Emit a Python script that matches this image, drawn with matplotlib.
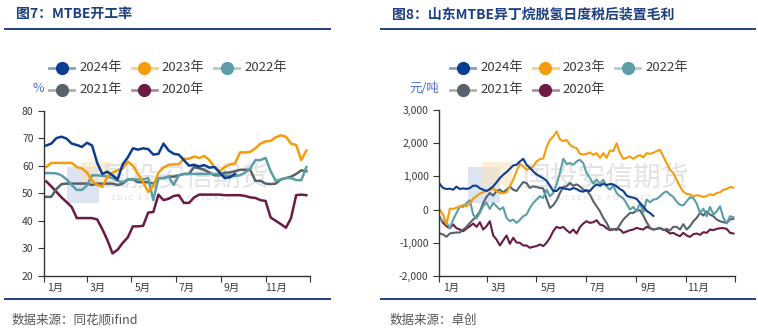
import numpy as np
import matplotlib
matplotlib.use("Agg")
import matplotlib.pyplot as plt
from matplotlib.lines import Line2D
from matplotlib.patches import Rectangle
from matplotlib.ticker import FuncFormatter

plt.rcParams["font.family"] = ["Noto Sans CJK SC", "DejaVu Sans"]

# ---- data -------------------------------------------------------------
years = ["2024年", "2023年", "2022年", "2021年", "2020年"]
colors = ["#0b3d91", "#f59c0c", "#5b9ea8", "#56636d", "#6b1a45"]

month_labels = ["1月", "3月", "5月", "7月", "9月", "11月"]

# MTBE operating rate, weekly (%)
rate_2024 = [67.3, 68.0, 70.0, 70.5, 69.8, 68.0, 67.5, 66.8, 68.3, 67.3,
             61.0, 57.0, 57.8, 56.5, 55.0, 60.5, 63.0, 66.3, 65.8, 66.3,
             66.0, 64.0, 64.3, 68.0, 65.5, 64.3, 64.0, 62.0, 60.0, 60.3,
             59.7, 60.2, 59.3, 59.5, 57.5, 55.5, 55.8, 57.0]
rate_2023 = [59.5, 61.0, 61.0, 61.0, 61.0, 61.0, 59.5, 59.0, 57.5, 54.5,
             53.0, 52.3, 56.0, 57.5, 58.3, 59.0, 61.5, 60.0, 57.0, 54.0,
             50.5, 52.5, 57.5, 59.3, 60.3, 60.5, 60.5, 62.5, 62.5, 63.3,
             62.8, 63.5, 62.0, 59.5, 58.0, 59.5, 60.5, 60.8, 64.8, 64.8,
             65.0, 66.3, 68.0, 68.8, 69.0, 70.3, 71.0, 70.5, 68.0, 67.5,
             62.0, 65.5]
rate_2022 = [57.3, 57.3, 57.2, 56.5, 55.0, 53.0, 51.2, 51.2, 52.8, 56.5,
             56.5, 56.3, 56.0, 55.5, 54.5, 54.0, 55.0, 55.0, 55.0, 55.0,
             55.5, 47.5, 55.5, 55.5, 56.0, 53.0, 56.5, 57.0, 57.0, 57.0,
             57.0, 57.0, 57.0, 57.0, 56.8, 56.5, 56.3, 56.3, 56.5, 57.5,
             59.0, 62.0, 62.0, 62.8, 58.0, 54.5, 55.0, 55.5, 55.5, 54.8,
             54.7, 59.5]
rate_2021 = [48.7, 48.7, 51.5, 53.3, 53.5, 53.5, 53.5, 53.5, 53.5, 53.0,
             53.5, 53.5, 53.5, 53.5, 53.0, 53.5, 55.0, 55.0, 54.0, 54.0,
             54.0, 53.5, 55.5, 55.5, 56.0, 56.0, 56.5, 57.0, 57.0, 59.5,
             59.0, 58.5, 57.5, 56.5, 56.5, 57.5, 57.5, 58.0, 58.5, 58.5,
             58.5, 54.5, 54.5, 53.5, 53.3, 53.5, 55.0, 55.5, 56.0, 57.0,
             58.3, 58.0]
rate_2020 = [54.3, 52.5, 50.5, 48.5, 46.8, 45.0, 41.0, 41.0, 41.0, 41.0,
             40.5, 37.0, 33.0, 28.2, 29.5, 32.0, 34.0, 38.0, 38.0, 38.2,
             43.0, 43.2, 49.5, 47.5, 48.0, 49.0, 49.3, 46.5, 46.5, 48.5,
             49.5, 49.5, 49.5, 49.5, 49.5, 49.3, 49.3, 49.3, 49.3, 49.0,
             48.5, 48.3, 47.5, 47.2, 41.2, 40.0, 38.8, 37.5, 41.0, 49.3,
             49.5, 49.3]

# Shandong isobutane dehydrogenation margin, after tax (yuan/t)
margin_2024 = [770, 650, 620, 630, 600, 690, 620, 640, 620, 650,
               720, 720, 640, 600, 560, 620, 700, 820, 950, 1050,
               1130, 1230, 1330, 1350, 1450, 1530, 1350, 1260, 1150, 1060,
               1000, 950, 870, 720, 560, 560, 660, 640, 620, 600,
               650, 620, 560, 540, 580, 560, 680, 760, 720, 780,
               740, 770, 760, 700, 620, 560, 420, 380, 360, 320,
               200, 90, -40, -100, -190]
margin_2023 = [-10, -150, -450, 30, 20, 60, 90, 140, 100, 180,
               330, 400, 480, 530, 560, 590, 640, 560, 500, 490,
               520, 700, 900, 1150, 1380, 1300, 1200, 1230, 1300, 1450,
               1520, 1540, 1880, 2100, 2200, 2350, 2120, 2060, 2100, 1950,
               1880, 1850, 1680, 1660, 1680, 1720, 1650, 1700, 1560, 1700,
               1560, 1780, 1760, 2000, 1700, 1530, 1560, 1600, 1530, 1600,
               1640, 1570, 1700, 1680, 1710, 1760, 1800, 1600, 1400, 1200,
               1100, 900, 700, 540, 470, 460, 400, 430, 420, 380,
               410, 460, 430, 500, 520, 600, 620, 680, 660]
margin_2022 = [-260, -350, -380, -560, -300, -100, 100, 80, 200, 280,
               -150, -270, -100, 100, 210, 20, 200, 100, 0, 70,
               -250, -350, -300, -400, -310, -200, -150, 50, 200, 300,
               400, 350, 600, 400, 500, 750, 1100, 1530, 1380, 1400,
               1350, 1450, 1500, 1400, 1100, 950, 780, 900, 780, 900,
               700, 600, 720, 500, 400, 340, 180, 0, 80, -50,
               200, -80, 300, 220, 300, 320, 400, 500, 550, 450,
               380, 240, 140, 130, 250, 370, 350, 180, -100, 30,
               -200, 80, -150, -50, 100, -250, -420, -200, -230]
margin_2021 = [-720, -750, -820, -720, -700, -690, -690, -600, -520, -400,
               -300, -200, -60, 200, 380, 500, 420, 560, 600, 520,
               600, 700, 600, 560, 700, 830, 800, 650, 700, 680,
               650, 640, 320, 50, 130, 280, 500, 680, 700, 800,
               720, 760, 700, 600, 580, 450, 250, 100, -50, -250,
               -400, -600, -580, -620, -450, -300, -200, -100, -100, -30,
               -20, -180, -380, -550, -600, -580, -550, -620, -580, -630,
               -520, -520, -600, -440, -600, -500, -350, -250, -100, -180,
               -50, -150, -200, -300, -350, -380, -400, -300, -280]
margin_2020 = [-230, -400, -500, -560, -450, -560, -600, -650, -570, -500,
               -420, -520, -380, -600, -500, -350, -780, -900, -1080, -930,
               -780, -1030, -850, -990, -1000, -1080, -1080, -1150, -1120, -1100,
               -1050, -1100, -1000, -850, -650, -520, -560, -520, -620, -700,
               -600, -720, -530, -420, -350, -400, -380, -320, -450, -480,
               -560, -620, -600, -580, -600, -700, -660, -620, -600, -550,
               -580, -600, -520, -560, -600, -580, -560, -600, -640, -720,
               -700, -760, -800, -700, -780, -820, -740, -720, -760, -680,
               -700, -600, -620, -580, -560, -560, -580, -700, -720]

rate_series = [rate_2024, rate_2023, rate_2022, rate_2021, rate_2020]
margin_series = [margin_2024, margin_2023, margin_2022, margin_2021, margin_2020]

# ---- layout helpers ---------------------------------------------------
W, H = 758, 331
fig = plt.figure(figsize=(W / 100, H / 100), dpi=100)
navy = "#1d3f82"
txt_grey = "#3a3a3a"


def fx(px):
    return px / W


def fy(py):
    return 1 - py / H


def hline(x0, x1, y):
    fig.add_artist(Line2D([fx(x0), fx(x1)], [fy(y), fy(y)], color=navy, lw=1.4))


def legend(x_base):
    for i, (lab, col) in enumerate(zip(years, colors)):
        row, c = (0, i) if i < 3 else (1, i - 3)
        x0 = x_base + c * 82.5
        y = 68 if row == 0 else 90
        fig.add_artist(Line2D([fx(x0), fx(x0 + 25)], [fy(y), fy(y)],
                              color=col, lw=2, alpha=0.5))
        fig.add_artist(Line2D([fx(x0 + 12.5)], [fy(y)], marker="o", ms=8.5,
                              color=col, lw=0))
        fig.text(fx(x0 + 30), fy(y), lab, fontsize=9.5, color=txt_grey,
                 va="center", ha="left")


def watermark(x_logo, x_text):
    fig.add_artist(Rectangle((fx(x_logo), fy(203)), 32 / W, 36 / H,
                             color="#c5d3ea", alpha=0.6, zorder=-1, lw=0))
    fig.add_artist(Rectangle((fx(x_logo + 14), fy(185)), 30 / W, 23 / H,
                             color="#fbe2bd", alpha=0.6, zorder=-1, lw=0))
    fig.text(fx(x_text), fy(178), "国投安信期货", fontsize=20, color="#d6d6d6",
             alpha=0.7, va="center", ha="left", zorder=-1)
    fig.text(fx(x_text + 8), fy(198), "S D I C   E S S E N C E   F U T U R E S",
             fontsize=5.5, color="#d6d6d6", alpha=0.8, va="center", ha="left",
             zorder=-1)


def style_axis(ax):
    for s in ["top", "right"]:
        ax.spines[s].set_visible(False)
    for s in ["left", "bottom"]:
        ax.spines[s].set_color("#333333")
        ax.spines[s].set_linewidth(1)
    ax.set_facecolor("none")
    ax.set_xlim(0, 365)
    ax.set_xticks([0, 59, 120, 181, 243, 304, 365])
    ax.set_xticklabels([])
    ax.set_xticks([15, 74, 135, 196, 258, 319], minor=True)
    ax.set_xticklabels(month_labels, minor=True)
    ax.tick_params(axis="x", which="major", length=4, color="#333333")
    ax.tick_params(axis="x", which="minor", length=0, labelsize=7.5,
                   labelcolor=txt_grey, pad=5)
    ax.tick_params(axis="y", length=4, color="#333333", labelsize=7.5,
                   labelcolor=txt_grey)


# ---- left panel: operating rate ---------------------------------------
fig.text(fx(16), fy(14), "图7：MTBE开工率", fontsize=10, fontweight="bold",
         color=navy, va="center", ha="left")
hline(5, 330, 29)
hline(5, 330, 299)
legend(49)
fig.text(fx(38), fy(88), "%", fontsize=9, color="#4a6fd0", va="center", ha="center")
watermark(67, 103)

ax1 = fig.add_axes([fx(44), fy(276), 266 / W, (276 - 110.5) / H])
for vals, col in zip(rate_series[::-1], colors[::-1]):
    days = 3 + 7 * np.arange(len(vals))
    ax1.plot(days, vals, color=col, lw=1.8)
ax1.set_ylim(20, 80)
ax1.set_yticks(range(20, 81, 10))
style_axis(ax1)
fig.text(fx(12), fy(320), "数据来源：同花顺ifind", fontsize=9, color="#555555",
         va="center", ha="left", style="italic")

# ---- right panel: margin ----------------------------------------------
fig.text(fx(392), fy(14), "图8：山东MTBE异丁烷脱氢日度税后装置毛利", fontsize=10,
         fontweight="bold", color=navy, va="center", ha="left")
hline(381, 755, 29)
hline(381, 755, 299)
legend(450)
fig.text(fx(424), fy(88), "元/吨", fontsize=9, color="#4a6fd0", va="center", ha="center")
watermark(468, 523)

ax2 = fig.add_axes([fx(439), fy(276), 296 / W, (276 - 110) / H])
step = 362 / 88
for vals, col in zip(margin_series[::-1], colors[::-1]):
    days = 1 + step * np.arange(len(vals))
    ax2.plot(days, vals, color=col, lw=1.5)
ax2.set_ylim(-2000, 3000)
ax2.set_yticks(range(-2000, 3001, 1000))
ax2.yaxis.set_major_formatter(FuncFormatter(lambda v, p: f"{v:,.0f}"))
style_axis(ax2)
fig.text(fx(390), fy(320), "数据来源：卓创", fontsize=9, color="#555555",
         va="center", ha="left", style="italic")

fig.savefig("out.png", dpi=100)
